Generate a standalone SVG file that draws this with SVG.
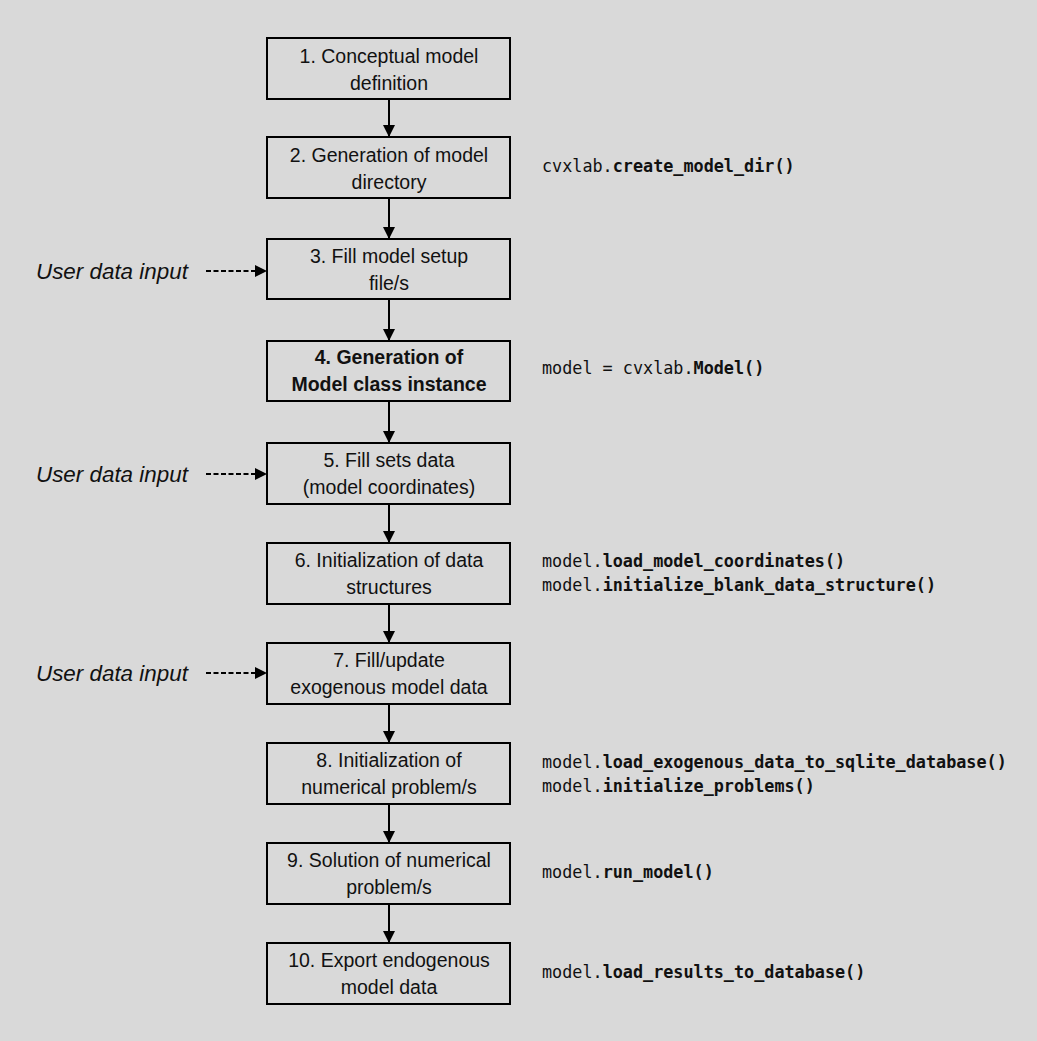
<svg xmlns="http://www.w3.org/2000/svg" width="1037" height="1041" viewBox="0 0 1037 1041">
<style>
.bg{fill:#d9d9d9}
.box{fill:#d9d9d9;stroke:#000;stroke-width:2}
.t{font-family:"Liberation Sans",Arial,sans-serif;font-size:19.5px;fill:#111;text-anchor:middle}
.tb{font-weight:bold}
.u{font-family:"Liberation Sans",Arial,sans-serif;font-size:22.4px;font-style:italic;fill:#111}
.c{font-family:"DejaVu Sans Mono",monospace;font-size:16.8px;fill:#111}
.c tspan.b{font-weight:bold}
.ln{stroke:#000;stroke-width:2;fill:none}
.dl{stroke:#000;stroke-width:2;fill:none;stroke-dasharray:5 2.5}
</style>
<defs>
<marker id="ah" markerWidth="12" markerHeight="12" viewBox="0 0 12 12" refX="11" refY="6" orient="auto" markerUnits="userSpaceOnUse">
<path d="M0,0 L12,6 L0,12 Z" fill="#000"/>
</marker>
</defs>
<rect class="bg" x="0" y="0" width="1037" height="1041"/>
<g id="connectors">
<line class="ln" x1="389" y1="99" x2="389" y2="136" marker-end="url(#ah)"/>
<line class="ln" x1="389" y1="198" x2="389" y2="238" marker-end="url(#ah)"/>
<line class="ln" x1="389" y1="299" x2="389" y2="340" marker-end="url(#ah)"/>
<line class="ln" x1="389" y1="401" x2="389" y2="442" marker-end="url(#ah)"/>
<line class="ln" x1="389" y1="504" x2="389" y2="542" marker-end="url(#ah)"/>
<line class="ln" x1="389" y1="604" x2="389" y2="642" marker-end="url(#ah)"/>
<line class="ln" x1="389" y1="704" x2="389" y2="742" marker-end="url(#ah)"/>
<line class="ln" x1="389" y1="804" x2="389" y2="842" marker-end="url(#ah)"/>
<line class="ln" x1="389" y1="904" x2="389" y2="942" marker-end="url(#ah)"/>
<line class="dl" x1="206" y1="271" x2="266" y2="271" marker-end="url(#ah)"/>
<line class="dl" x1="206" y1="474" x2="266" y2="474" marker-end="url(#ah)"/>
<line class="dl" x1="206" y1="673" x2="266" y2="673" marker-end="url(#ah)"/>
</g>
<g id="n1"><rect class="box" x="267" y="38" width="243" height="61"/>
<text class="t" x="389" y="63">1. Conceptual model</text><text class="t" x="389" y="90">definition</text></g>
<g id="n2"><rect class="box" x="267" y="137" width="243" height="61"/>
<text class="t" x="389" y="162">2. Generation of model</text><text class="t" x="389" y="189">directory</text></g>
<g id="n3"><rect class="box" x="267" y="239" width="243" height="60"/>
<text class="t" x="389" y="263">3. Fill model setup</text><text class="t" x="389" y="290">file/s</text></g>
<g id="n4"><rect class="box" x="267" y="341" width="243" height="60"/>
<text class="t tb" x="389" y="364">4. Generation of</text><text class="t tb" x="389" y="391">Model class instance</text></g>
<g id="n5"><rect class="box" x="267" y="443" width="243" height="61"/>
<text class="t" x="389" y="467">5. Fill sets data</text><text class="t" x="389" y="494">(model coordinates)</text></g>
<g id="n6"><rect class="box" x="267" y="543" width="243" height="61"/>
<text class="t" x="389" y="567">6. Initialization of data</text><text class="t" x="389" y="594">structures</text></g>
<g id="n7"><rect class="box" x="267" y="643" width="243" height="61"/>
<text class="t" x="389" y="667">7. Fill/update</text><text class="t" x="389" y="694">exogenous model data</text></g>
<g id="n8"><rect class="box" x="267" y="743" width="243" height="61"/>
<text class="t" x="389" y="767">8. Initialization of</text><text class="t" x="389" y="794">numerical problem/s</text></g>
<g id="n9"><rect class="box" x="267" y="843" width="243" height="61"/>
<text class="t" x="389" y="867">9. Solution of numerical</text><text class="t" x="389" y="894">problem/s</text></g>
<g id="n10"><rect class="box" x="267" y="943" width="243" height="61"/>
<text class="t" x="389" y="967">10. Export endogenous</text><text class="t" x="389" y="994">model data</text></g>
<g id="user-inputs">
<text class="u" x="36" y="279">User data input</text>
<text class="u" x="36" y="482">User data input</text>
<text class="u" x="36" y="681">User data input</text>
</g>
<g id="code">
<text class="c" x="542" y="172">cvxlab.<tspan class="b">create_model_dir()</tspan></text>
<text class="c" x="542" y="374">model = cvxlab.<tspan class="b">Model()</tspan></text>
<text class="c" x="542" y="567">model.<tspan class="b">load_model_coordinates()</tspan></text>
<text class="c" x="542" y="591">model.<tspan class="b">initialize_blank_data_structure()</tspan></text>
<text class="c" x="542" y="768">model.<tspan class="b">load_exogenous_data_to_sqlite_database()</tspan></text>
<text class="c" x="542" y="792">model.<tspan class="b">initialize_problems()</tspan></text>
<text class="c" x="542" y="878">model.<tspan class="b">run_model()</tspan></text>
<text class="c" x="542" y="978">model.<tspan class="b">load_results_to_database()</tspan></text>
</g>
</svg>
